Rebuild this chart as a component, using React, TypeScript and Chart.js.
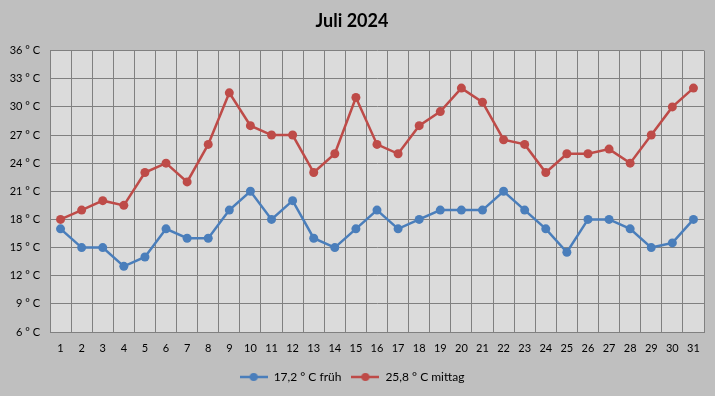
import React, { useEffect, useRef } from "react";
import { Chart, registerables } from "chart.js";

Chart.register(...registerables);

const days: string[] = Array.from({ length: 31 }, (_, i) => String(i + 1));
const fruehValues: number[] = [17, 15, 15, 13, 14, 17, 16, 16, 19, 21, 18, 20, 16, 15, 17, 19, 17, 18, 19, 19, 19, 21, 19, 17, 14.5, 18, 18, 17, 15, 15.5, 18];
const mittagValues: number[] = [18, 19, 20, 19.5, 23, 24, 22, 26, 31.5, 28, 27, 27, 23, 25, 31, 26, 25, 28, 29.5, 32, 30.5, 26.5, 26, 23, 25, 25, 25.5, 24, 27, 30, 32];
const seriesNames: string[] = ["17,2 ° C früh", "25,8 ° C mittag"];
const titleText = "Juli 2024";

const BLUE = "rgb(74,126,187)";
const RED = "rgb(190,75,72)";
const FONT = "Lato, 'Open Sans', sans-serif";

function legendMarker(color: string): HTMLCanvasElement {
  const c = document.createElement("canvas");
  c.width = 28;
  c.height = 10;
  const ctx = c.getContext("2d")!;
  ctx.strokeStyle = color;
  ctx.lineWidth = 2.5;
  ctx.beginPath();
  ctx.moveTo(0, 5);
  ctx.lineTo(28, 5);
  ctx.stroke();
  ctx.fillStyle = color;
  ctx.beginPath();
  ctx.arc(14, 5, 4, 0, Math.PI * 2);
  ctx.fill();
  return c;
}

const bgPlugin = {
  id: "bgPlugin",
  beforeDraw(chart: any) {
    const { ctx, chartArea } = chart;
    ctx.save();
    ctx.fillStyle = "#bfbfbf";
    ctx.fillRect(0, 0, chart.width, chart.height);
    ctx.fillStyle = "#dbdbdb";
    ctx.fillRect(chartArea.left, chartArea.top, chartArea.right - chartArea.left, chartArea.bottom - chartArea.top);
    ctx.restore();
  },
};

export default function App() {
  const ref = useRef<HTMLCanvasElement | null>(null);
  useEffect(() => {
    document.body.style.margin = "0";
    if (!ref.current) return;
    const markers = [legendMarker(BLUE), legendMarker(RED)];
    const chart = new Chart(ref.current, {
      type: "line",
      data: {
        labels: days,
        datasets: [
          {
            label: seriesNames[0],
            data: fruehValues,
            borderColor: BLUE,
            backgroundColor: BLUE,
            borderWidth: 2.5,
            pointRadius: 4.5,
            pointHoverRadius: 4.5,
            pointBorderWidth: 0,
            tension: 0,
          },
          {
            label: seriesNames[1],
            data: mittagValues,
            borderColor: RED,
            backgroundColor: RED,
            borderWidth: 2.5,
            pointRadius: 4.5,
            pointHoverRadius: 4.5,
            pointBorderWidth: 0,
            tension: 0,
          },
        ],
      },
      options: {
        animation: false,
        responsive: false,
        maintainAspectRatio: false,
        layout: { padding: { left: 0, right: 11, top: 0, bottom: 3 } },
        plugins: {
          title: {
            display: true,
            text: titleText,
            color: "#000",
            font: { family: FONT, size: 18, weight: "bold" },
            padding: { top: 10, bottom: 19 },
          },
          legend: {
            position: "bottom",
            labels: {
              color: "#000",
              font: { family: FONT, size: 12 },
              usePointStyle: true,
              pointStyleWidth: 28,
              padding: 10,
              generateLabels: (c: any) => {
                const items = Chart.defaults.plugins.legend.labels.generateLabels(c);
                return items.map((it: any, i: number) => ({ ...it, pointStyle: markers[i] }));
              },
            },
          },
          tooltip: { enabled: false },
        },
        scales: {
          x: {
            offset: true,
            grid: { offset: true, color: "#808080", lineWidth: 1, drawTicks: false },
            border: { color: "#808080", width: 1 },
            ticks: { color: "#000", font: { family: FONT, size: 11 }, padding: 10, autoSkip: false, maxRotation: 0 },
            afterFit: (s: any) => { s.height = 29; },
          },
          y: {
            min: 6,
            max: 36,
            grid: { color: "#808080", lineWidth: 1, drawTicks: false },
            border: { color: "#808080", width: 1 },
            ticks: {
              stepSize: 3,
              color: "#000",
              font: { family: FONT, size: 11 },
              padding: 10,
              callback: (v: any) => `${v} ° C`,
            },
            afterFit: (s: any) => { s.width = 50; },
          },
        },
      },
      plugins: [bgPlugin],
    });
    return () => chart.destroy();
  }, []);
  return (
    <div style={{ width: 715, height: 396 }}>
      <canvas ref={ref} width={715} height={396} style={{ display: "block" }} />
    </div>
  );
}
